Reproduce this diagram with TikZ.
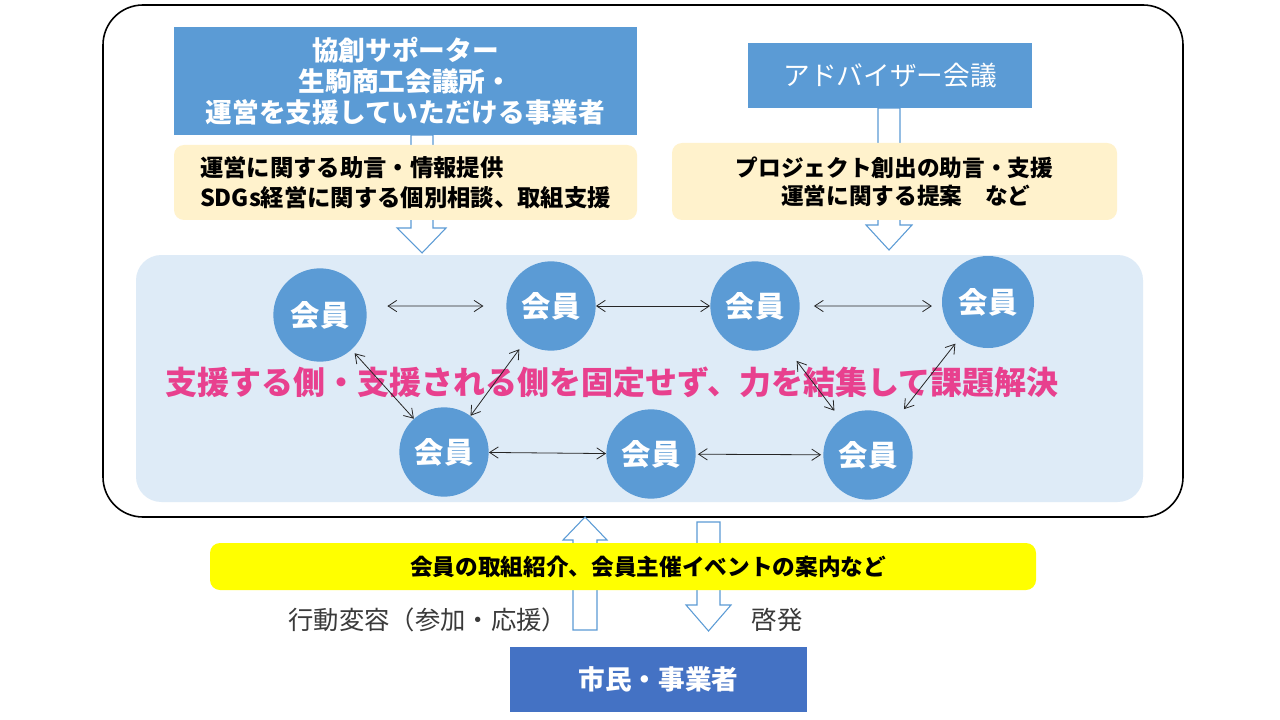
\documentclass[tikz,border=0pt]{standalone}
\usepackage{fontspec}
\setmainfont{Noto Sans CJK JP}
\usetikzlibrary{arrows.meta}
\definecolor{midblue}{HTML}{5B9BD5}
\definecolor{darkblue}{HTML}{4472C4}
\definecolor{beige}{HTML}{FFF2CC}
\definecolor{panel}{HTML}{DEEBF7}
\definecolor{pinktext}{HTML}{E8408E}
\definecolor{labelgray}{HTML}{3A3A3A}
\definecolor{bandyellow}{HTML}{FFFF00}
\newcommand{\fs}[2]{\fontsize{#1}{#2}\selectfont}
\tikzset{
  bluebox/.style={rectangle, fill=midblue, draw=none, text=white, align=center},
  beigebox/.style={rectangle, rounded corners=7.5pt, fill=beige, draw=none, text=black},
  member/.style={circle, fill=midblue, draw=none, text=white, font=\fs{22pt}{26pt}\bfseries, minimum size=67pt, inner sep=0pt},
  link/.style={{Straight Barb[length=6.5pt,width=8.5pt]}-{Straight Barb[length=6.5pt,width=8.5pt]}, line width=0.6pt, black!85},
  hollow/.style={draw=midblue, line width=0.8pt, fill=white, line join=miter},
}
\begin{document}
\begin{tikzpicture}[x=0.75pt,y=-0.75pt]
\useasboundingbox (0,0) rectangle (1280,720);
\fill[white] (0,0) rectangle (1280,720);

% outer frame
\draw[line width=1.2pt, rounded corners=30pt] (103,5) rectangle (1183,517);

% hollow arrows (top)
\draw[hollow] (411,135) -- (433,135) -- (433,228) -- (446,228) -- (422,253) -- (397,228) -- (411,228) -- cycle;
\draw[hollow] (878,108) -- (900,108) -- (900,225) -- (912,225) -- (889,250) -- (866,225) -- (878,225) -- cycle;

% top boxes
\node[bluebox, minimum width=347.25pt, minimum height=81pt, font=\fs{20pt}{23pt}\bfseries] (sup) at (405.5,81)
  {協創サポーター\\生駒商工会議所・\\運営を支援していただける事業者};
\node[beigebox, minimum width=347.25pt, minimum height=56.25pt, align=left, font=\fs{17.5pt}{22.5pt}\bfseries] (supnote) at (405.5,182.5)
  {運営に関する助言・情報提供\\SDGs経営に関する個別相談、取組支援};
\node[bluebox, minimum width=213pt, minimum height=48.75pt, font=\fs{20pt}{24pt}] (adv) at (890,75.5) {アドバイザー会議};
\node[beigebox, minimum width=333.75pt, minimum height=57.75pt, align=center, font=\fs{17pt}{21pt}\bfseries] (advnote) at (894.5,181.5)
  {プロジェクト創出の助言・支援\\　運営に関する提案　など};

% member panel
\fill[panel, rounded corners=19pt] (136,255) rectangle (1143,502);

\node[font=\fs{24pt}{28pt}\bfseries, text=pinktext] (motto) at (612,382)
  {支援する側・支援される側を固定せず、力を結集して課題解決};

\node[member, minimum size=70pt] (c1) at (320,315) {会員};
\node[member] (c2) at (551,306) {会員};
\node[member] (c3) at (755,306) {会員};
\node[member, minimum size=69pt] (c4) at (988,302) {会員};
\node[member] (c5) at (444,452) {会員};
\node[member] (c6) at (651,454) {会員};
\node[member] (c7) at (868,455) {会員};

\draw[link, shorten <=16pt, shorten >=17pt] (c1.11) -- (c2.west);
\draw[link] (c2) -- (c3);
\draw[link, shorten <=10.5pt, shorten >=7.5pt] (c3.east) -- (c4.185);
\draw[link, shorten <=3.5pt] (c1) -- (c5);
\draw[link, shorten <=6.5pt] (c2) -- (c5);
\draw[link] (c5) -- (c6);
\draw[link, shorten <=1.5pt, shorten >=1.5pt] (c6) -- (c7);
\draw[link, shorten <=18pt, shorten >=8pt] (c3) -- (c7);
\draw[link, shorten <=10pt, shorten >=5pt] (c7) -- (c4);

% bottom hollow arrows
\draw[hollow] (585,517) -- (607,540) -- (597,540) -- (597,630) -- (573,630) -- (573,540) -- (563,540) -- cycle;
\draw[hollow] (697,522) -- (720,522) -- (720,605) -- (731,605) -- (708.5,631) -- (686,605) -- (697,605) -- cycle;

% yellow band
\node[rectangle, rounded corners=7.5pt, fill=bandyellow, minimum width=619.5pt, minimum height=35.25pt] (info) at (623,566.5) {};
\node[font=\fs{17pt}{20pt}\bfseries] (infotext) at (648,567) {会員の取組紹介、会員主催イベントの案内など};

\node[font=\fs{19pt}{22pt}, text=labelgray, anchor=east] (act) at (572,620) {行動変容（参加・応援）};
\node[font=\fs{19pt}{22pt}, text=labelgray, anchor=west] (enl) at (747,620) {啓発};

\node[rectangle, fill=darkblue, text=white, minimum width=222.75pt, minimum height=48.75pt, font=\fs{20pt}{24pt}\bfseries] (cit) at (658.5,679.5) {市民・事業者};
\end{tikzpicture}
\end{document}
